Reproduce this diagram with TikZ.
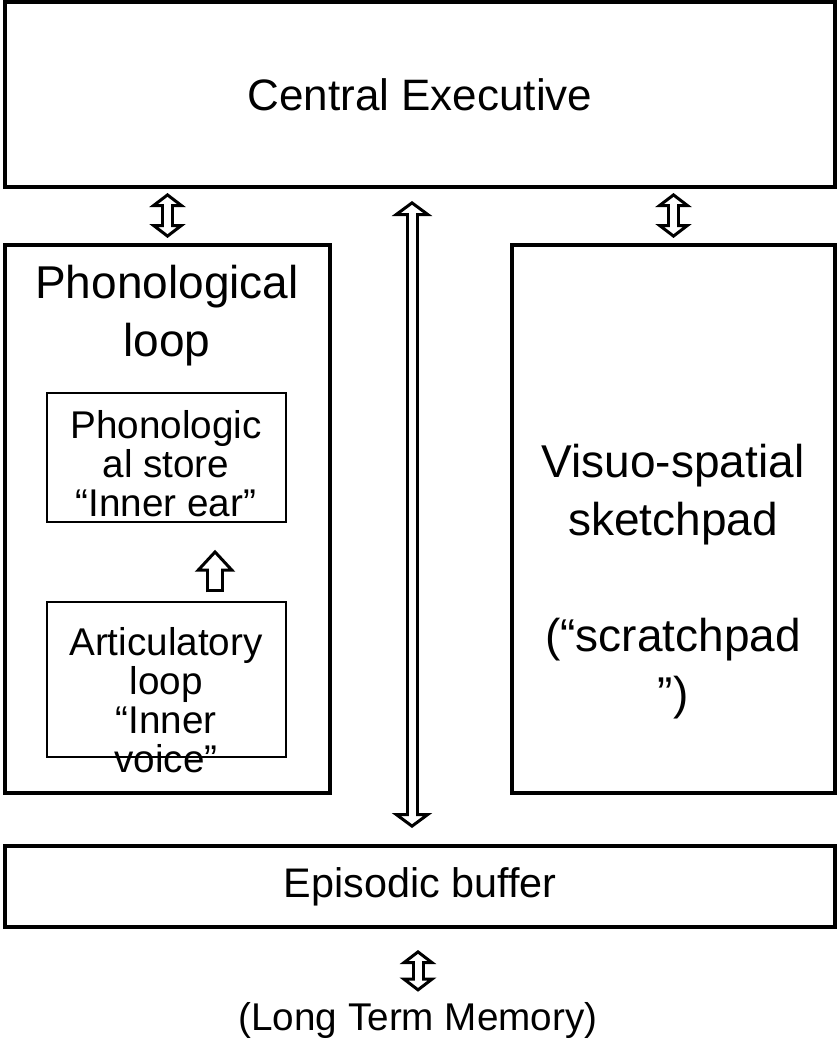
\documentclass[tikz,border=0pt]{standalone}
\usepackage{fontspec}
\setmainfont{Liberation Sans}
\usetikzlibrary{arrows.meta, calc}

\begin{document}
\begin{tikzpicture}[
    x=0.75pt, y=-0.75pt,
    outer/.style={draw, line width=3pt, inner sep=0pt, font=\fontsize{33}{43.5}\selectfont, align=center},
    inner/.style={draw, line width=1.1pt, inner sep=0pt, minimum width=179.25pt},
    txt/.style={align=center, inner sep=0pt, font=\fontsize{34.5}{43.5}\selectfont},
    smalltxt/.style={align=center, inner sep=0pt, font=\fontsize{29}{29.25}\selectfont},
    HeadS/.tip={Triangle[fill=white, length=10.5pt, width=27pt, line width=2.25pt 0 0]},
    HeadL/.tip={Triangle[fill=white, length=11.25pt, width=30pt, line width=2.25pt 0 0]},
    HeadU/.tip={Triangle[fill=white, length=16.5pt, width=30pt, line width=2.25pt 0 0]},
    dblarrow/.style={line width=9.75pt, arrows={HeadS-HeadS},
        postaction={draw=white, line width=5.25pt, -, shorten <=7pt, shorten >=7pt}},
    longarrow/.style={line width=9.75pt, arrows={HeadL-HeadL},
        postaction={draw=white, line width=5.25pt, -, shorten <=7.5pt, shorten >=7.5pt}},
    uparrow/.style={line width=13.5pt, arrows={-HeadU},
        postaction={draw=white, line width=9pt, -, shorten <=2.25pt, shorten >=12pt}},
]
\useasboundingbox (0,0) rectangle (838,1063);

% Central executive
\node[outer, minimum width=622.5pt, minimum height=138.75pt] (ce) at (420,94.5) {Central Executive};

% Slave systems
\node[outer, minimum width=243.75pt, minimum height=411pt] (pl) at (167.5,519) {};
\node[txt] (pltitle) at (167,316) {Phonological\\loop};
\node[inner, minimum height=96.75pt] (ps) at (166.5,457.5) {};
\node[smalltxt] (pstext) at (166,464) {Phonologic\\al store\\“Inner ear”};
\node[inner, minimum height=116.25pt] (al) at (166.5,679.5) {};
\node[smalltxt] (altext) at (166,700) {Articulatory\\loop\\“Inner\\voice”};

\node[outer, minimum width=242.25pt, minimum height=411pt] (vs) at (673.5,519) {};
\node[txt] (vstext) at (673,582) {Visuo-spatial\\sketchpad\\\mbox{}\\(“scratchpad\\”)};

% Episodic buffer and LTM
\node[outer, minimum width=622.5pt, minimum height=60.75pt, font=\fontsize{31}{40}\selectfont] (eb) at (420,886.5) {Episodic buffer};
\node[txt, font=\fontsize{29}{40}\selectfont, text height=22pt, text depth=7pt] (ltm) at (418,1020) {(Long Term Memory)};

% Arrows
\draw[dblarrow] ([yshift=-3pt]ce.south -| pl.north) -- ([yshift=3.75pt]pl.north);
\draw[dblarrow] ([yshift=-3pt]ce.south -| vs.north) -- ([yshift=3.75pt]vs.north);
\draw[longarrow] ([xshift=-6pt, yshift=-9pt]ce.south) -- ([xshift=-6pt, yshift=12pt]eb.north);
\draw[uparrow] ([xshift=36.4pt, yshift=6.75pt]al.north) -- ([xshift=36.4pt, yshift=-20.25pt]ps.south);
\draw[dblarrow] ([yshift=-15.75pt]ltm.north |- eb.south) -- ([yshift=6.5pt]ltm.north);

\end{tikzpicture}
\end{document}
